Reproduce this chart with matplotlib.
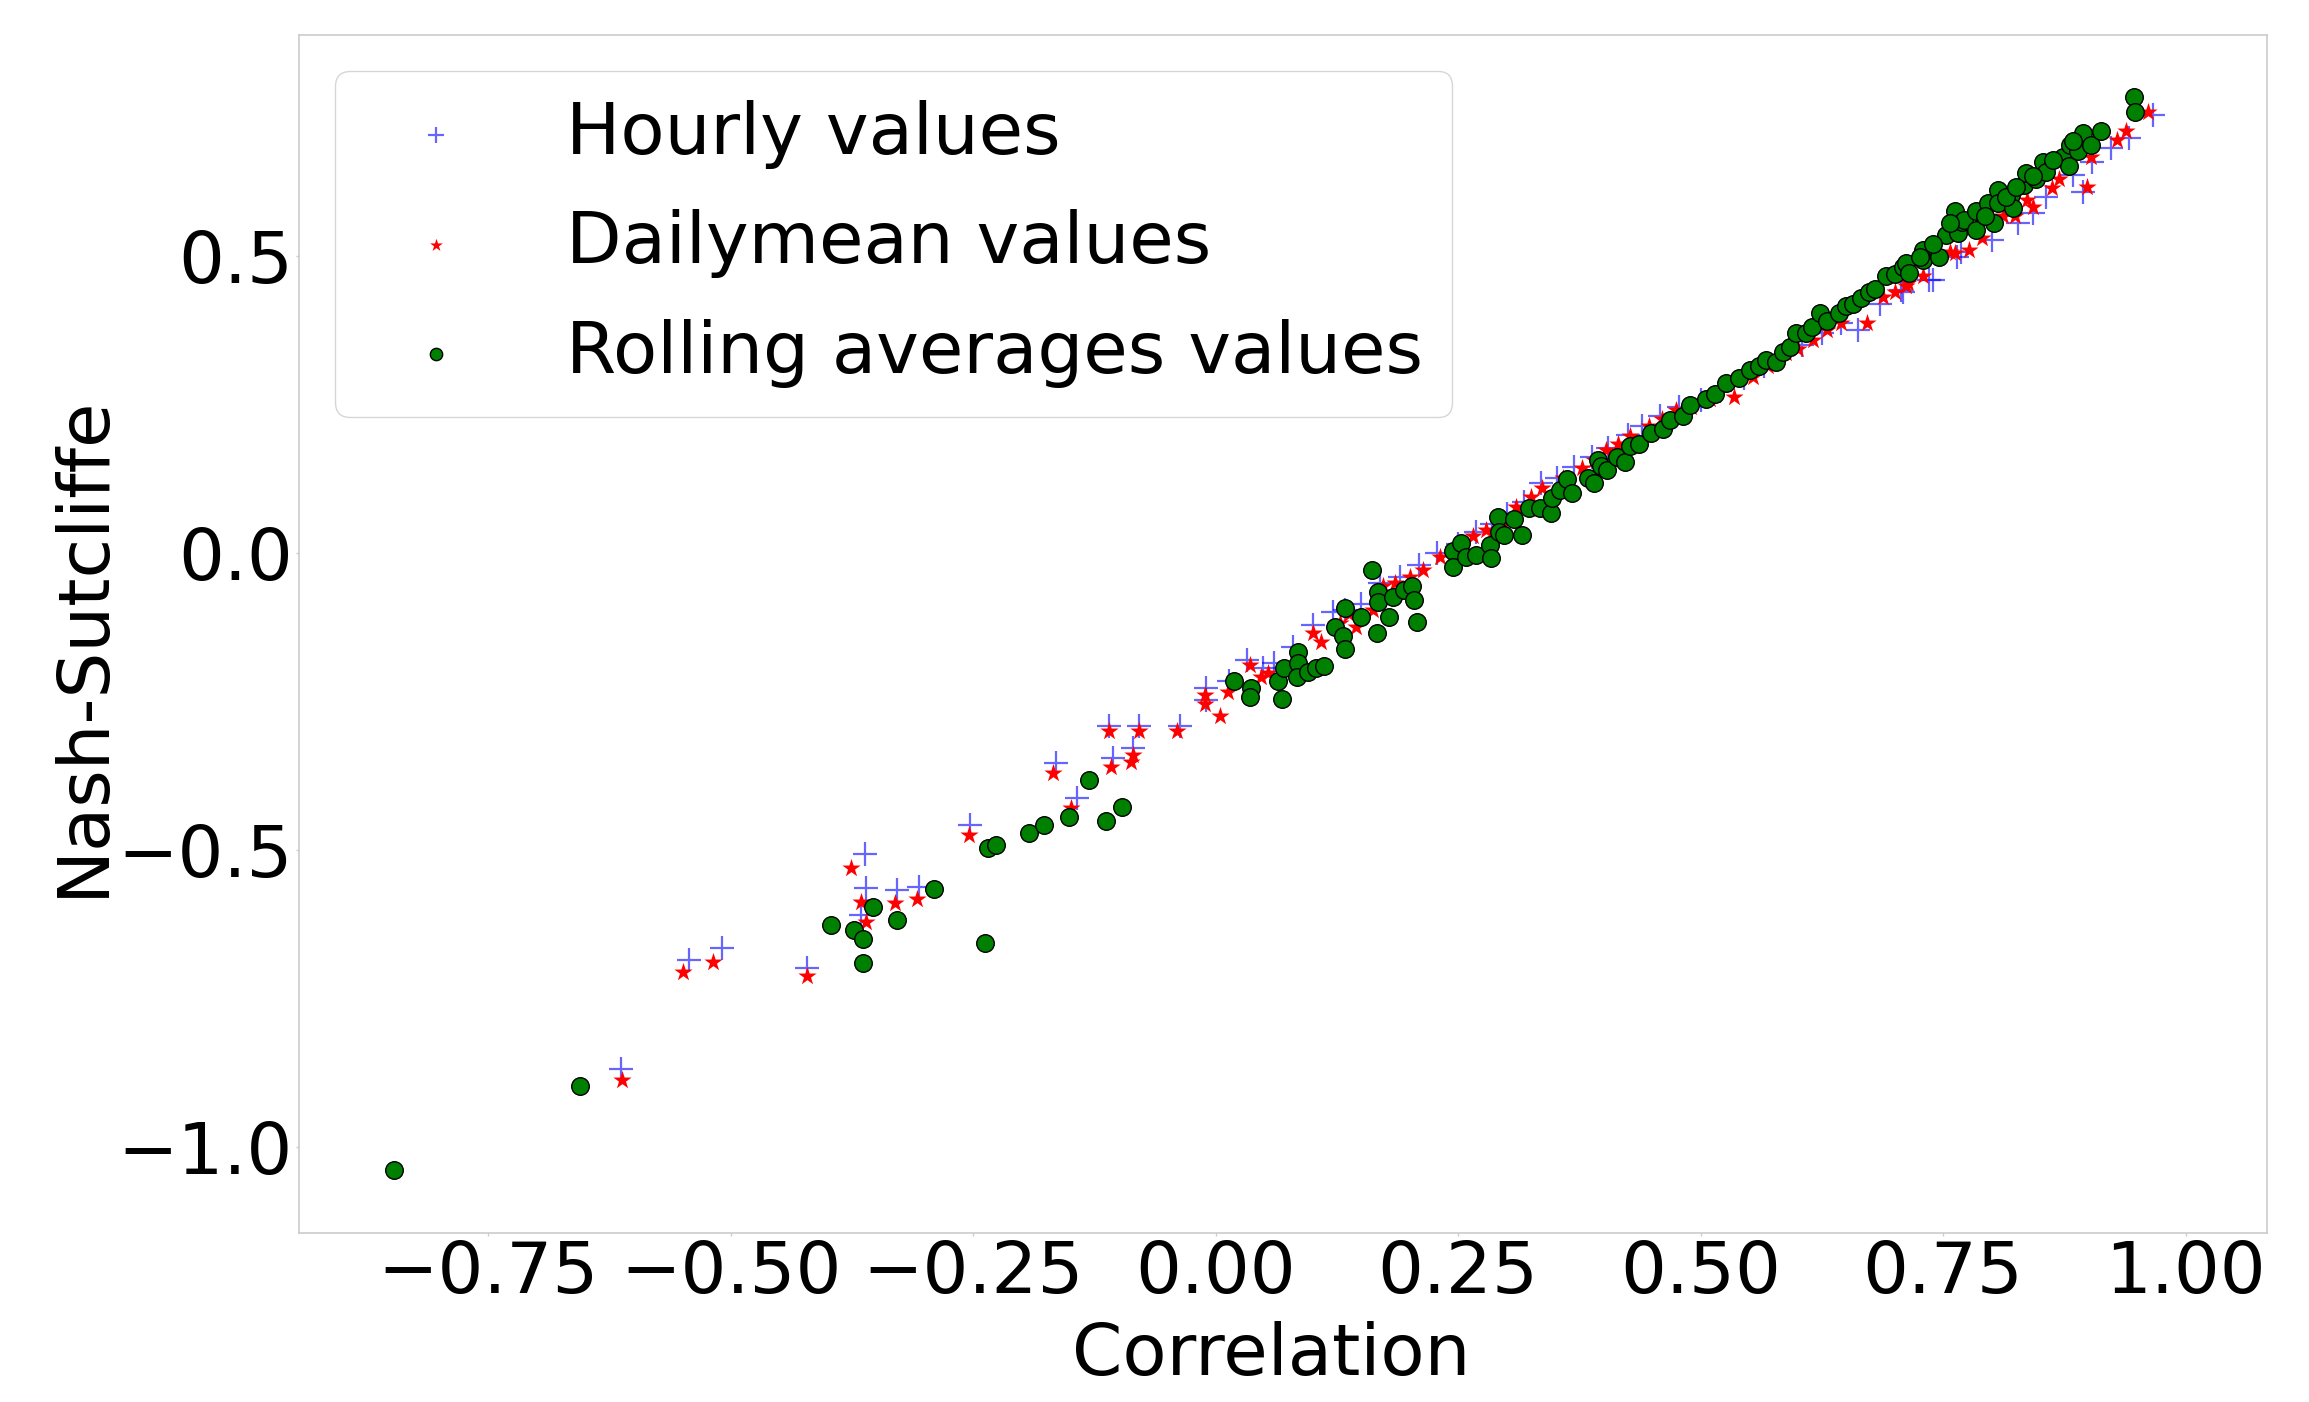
import matplotlib
matplotlib.use("Agg")
import matplotlib.pyplot as plt

plt.rcParams['font.family'] = ['DejaVu Sans']

# Hourly values (blue +)
hourly_x = [-0.613, -0.543, -0.509, -0.421, -0.361, -0.360, -0.366, -0.328, -0.306,
            -0.253, -0.165, -0.143, -0.110, -0.106, -0.085, -0.079, -0.037, -0.010, -0.010,
            0.014, 0.032, 0.049, 0.060, 0.080, 0.100, 0.121, 0.133,
            0.150, 0.170, 0.190, 0.210, 0.228, 0.250, 0.268, 0.285, 0.300, 0.318, 0.335,
            0.352, 0.370, 0.388, 0.405, 0.425, 0.440, 0.458, 0.478,
            0.500, 0.520, 0.545, 0.565, 0.585, 0.605, 0.625, 0.645, 0.662, 0.685, 0.709,
            0.740, 0.764,
            0.707, 0.736, 0.769, 0.801, 0.827, 0.843, 0.856, 0.884, 0.894, 0.904, 0.923,
            0.942, 0.966]
hourly_y = [-0.869, -0.685, -0.665, -0.698, -0.506, -0.564, -0.609, -0.568, -0.562,
            -0.458, -0.354, -0.412, -0.292, -0.346, -0.329, -0.292, -0.292, -0.228, -0.248,
            -0.216, -0.180, -0.194, -0.186, -0.158, -0.121, -0.099, -0.096,
            -0.086, -0.050, -0.040, -0.020, 0.000, 0.015, 0.036, 0.048, 0.066, 0.086, 0.117,
            0.127, 0.145, 0.162, 0.177, 0.198, 0.213, 0.230, 0.246,
            0.258, 0.273, 0.294, 0.314, 0.334, 0.351, 0.370, 0.388, 0.376, 0.420, 0.440,
            0.460, 0.499,
            0.443, 0.460, 0.507, 0.527, 0.556, 0.572, 0.600, 0.637, 0.608, 0.659, 0.681,
            0.698, 0.738]

# Dailymean values (red *)
daily_x = [-0.612, -0.549, -0.518, -0.421, -0.376, -0.366, -0.360, -0.331, -0.308,
           -0.254, -0.168, -0.149, -0.110, -0.108, -0.087, -0.085, -0.079, -0.040,
           -0.011, -0.011, 0.005, 0.013, 0.035, 0.047, 0.054, 0.100, 0.109, 0.128,
           0.145, 0.162,
           0.138, 0.173, 0.185, 0.200, 0.214, 0.231, 0.245, 0.265, 0.279, 0.295, 0.310,
           0.325, 0.337, 0.358, 0.378, 0.390, 0.403, 0.415, 0.427, 0.447, 0.460, 0.475,
           0.490, 0.510, 0.535, 0.554, 0.570, 0.588, 0.600, 0.616, 0.630, 0.645, 0.672,
           0.688, 0.700, 0.712,
           0.714, 0.729, 0.757, 0.762, 0.777, 0.790, 0.812, 0.824, 0.837, 0.843, 0.862,
           0.870, 0.898, 0.903, 0.929, 0.939, 0.961]
daily_y = [-0.888, -0.705, -0.688, -0.712, -0.530, -0.588, -0.622, -0.590, -0.583,
           -0.474, -0.370, -0.430, -0.299, -0.360, -0.352, -0.340, -0.299, -0.300,
           -0.239, -0.254, -0.275, -0.234, -0.188, -0.208, -0.202, -0.135, -0.150, -0.118,
           -0.124, -0.096,
           -0.102, -0.056, -0.050, -0.040, -0.028, -0.006, 0.007, 0.028, 0.039, 0.056, 0.078,
           0.094, 0.109, 0.126, 0.143, 0.157, 0.173, 0.183, 0.197, 0.213, 0.226, 0.241,
           0.246, 0.260, 0.263, 0.297, 0.314, 0.336, 0.344, 0.358, 0.375, 0.388, 0.387,
           0.431, 0.440, 0.449,
           0.455, 0.466, 0.507, 0.505, 0.510, 0.531, 0.567, 0.567, 0.594, 0.583, 0.614,
           0.629, 0.616, 0.667, 0.695, 0.710, 0.743]

# Rolling averages values (green o)
rolling_x = [-0.847, -0.655, -0.396, -0.373, -0.364, -0.364, -0.353, -0.328, -0.290, -0.238,
             -0.235, -0.226, -0.192, -0.177, -0.151, -0.131, -0.113, -0.096,
             0.019, 0.036, 0.035, 0.064, 0.068, 0.071, 0.085, 0.085, 0.084, 0.095, 0.104,
             0.112, 0.123, 0.131, 0.133, 0.133, 0.150,
             0.166, 0.161, 0.167, 0.167, 0.179, 0.183, 0.194, 0.203, 0.205, 0.208,
             0.245, 0.245, 0.253, 0.258, 0.269, 0.283, 0.284, 0.291, 0.292, 0.297, 0.308,
             0.316, 0.323, 0.334, 0.346, 0.347, 0.355, 0.362, 0.367, 0.384, 0.390, 0.394,
             0.397, 0.404, 0.414, 0.422, 0.427, 0.437, 0.449, 0.461, 0.468, 0.482, 0.489,
             0.506, 0.515, 0.526, 0.540, 0.551, 0.560, 0.568, 0.578, 0.585, 0.592, 0.598,
             0.609, 0.615, 0.623, 0.630, 0.643, 0.650, 0.657, 0.665, 0.674, 0.680, 0.691,
             0.700, 0.709,
             0.712, 0.715, 0.729, 0.729, 0.746, 0.753, 0.762, 0.765, 0.770, 0.772, 0.784,
             0.784, 0.796, 0.803, 0.807, 0.807, 0.820, 0.822, 0.834, 0.836, 0.846, 0.853,
             0.856, 0.874, 0.880, 0.881, 0.889, 0.894, 0.903, 0.913, 0.947, 0.948,
             0.740, 0.793, 0.815, 0.843, 0.863, 0.884, 0.757, 0.726, 0.825]
rolling_y = [-1.039, -0.897, -0.626, -0.635, -0.650, -0.691, -0.596, -0.618, -0.566, -0.656,
             -0.497, -0.492, -0.471, -0.458, -0.444, -0.383, -0.451, -0.427,
             -0.216, -0.228, -0.242, -0.216, -0.246, -0.194, -0.166, -0.186, -0.208, -0.200,
             -0.194, -0.190, -0.124, -0.140, -0.161, -0.093, -0.107,
             -0.135, -0.028, -0.065, -0.082, -0.107, -0.074, -0.063, -0.056, -0.079, -0.117,
             0.004, -0.024, 0.016, -0.006, -0.003, 0.013, -0.009, 0.061, 0.036, 0.031, 0.057,
             0.031, 0.075, 0.075, 0.067, 0.092, 0.106, 0.125, 0.101, 0.126, 0.118, 0.157,
             0.146, 0.140, 0.162, 0.154, 0.180, 0.184, 0.202, 0.208, 0.224, 0.231, 0.249,
             0.260, 0.268, 0.286, 0.294, 0.308, 0.314, 0.325, 0.322, 0.339, 0.347, 0.371,
             0.371, 0.380, 0.404, 0.390, 0.404, 0.415, 0.420, 0.430, 0.440, 0.445, 0.466,
             0.469, 0.482,
             0.488, 0.471, 0.510, 0.493, 0.499, 0.536, 0.575, 0.539, 0.558, 0.561, 0.575,
             0.544, 0.590, 0.556, 0.611, 0.589, 0.603, 0.580, 0.620, 0.640, 0.629, 0.659,
             0.642, 0.667, 0.651, 0.687, 0.676, 0.707, 0.687, 0.710, 0.768, 0.743,
             0.521, 0.567, 0.600, 0.634, 0.662, 0.693, 0.555, 0.499, 0.617]

labels = ["Hourly values", "Dailymean values", "Rolling averages values"]
x_ticks = [-0.75, -0.50, -0.25, 0.00, 0.25, 0.50, 0.75, 1.00]
y_ticks = [-1.0, -0.5, 0.0, 0.5]

FS = 52
fig = plt.figure(figsize=(23.09, 14.02), dpi=100)
ax = fig.add_axes([0.1295, 0.1205, 0.8523, 0.8545])

ax.scatter(hourly_x, hourly_y, marker='+', s=300, c='blue', alpha=0.6,
           linewidths=1.6, label=labels[0], zorder=2)
ax.scatter(daily_x, daily_y, marker='*', s=190, c='red', linewidths=0,
           label=labels[1], zorder=3)
ax.scatter(rolling_x, rolling_y, marker='o', s=160, c='green', edgecolors='black',
           linewidths=1.0, label=labels[2], zorder=4)

ax.set_xlim(-0.945, 1.084)
ax.set_ylim(-1.145, 0.872)
ax.set_xticks(x_ticks)
ax.set_yticks(y_ticks)
ax.set_xticklabels([f"{v:.2f}".replace('-', '\u2212') for v in x_ticks])
ax.set_yticklabels([f"{v:.1f}".replace('-', '\u2212') for v in y_ticks])
ax.tick_params(axis='both', labelsize=FS, length=2.5, width=1, color='#cccccc', pad=2)

for sp in ax.spines.values():
    sp.set_color('#cccccc')
    sp.set_linewidth(1.2)

ax.set_xlabel("Correlation", fontsize=FS)
ax.set_ylabel("Nash-Sutcliffe", fontsize=FS)
ax.xaxis.set_label_coords(0.494, -0.073)
ax.yaxis.set_label_coords(-0.092, 0.49)

leg = ax.legend(loc='upper left', fontsize=FS, markerscale=0.7, framealpha=0.8,
                edgecolor='0.8', labelspacing=0.56)

fig.savefig("out.png", dpi=100)
